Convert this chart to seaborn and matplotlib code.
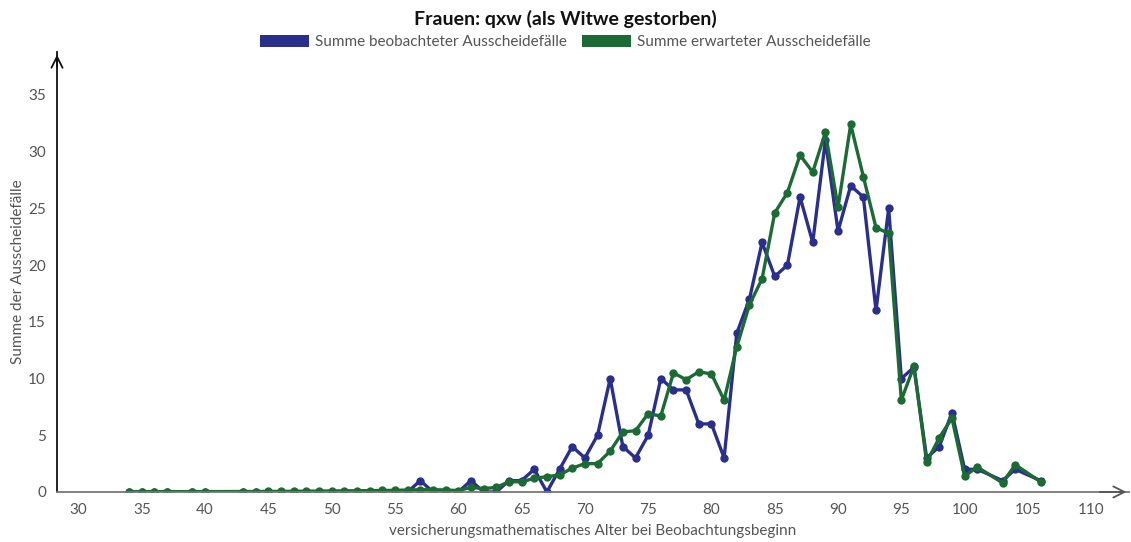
import matplotlib
matplotlib.use("Agg")
import matplotlib.pyplot as plt
import seaborn as sns
import pandas as pd
from matplotlib.patches import Patch

ages = [34, 35, 36, 37, 39, 40, 43, 44, 45, 46, 47, 48, 49, 50, 51, 52, 53, 54,
        55, 56, 57, 58, 59, 60, 61, 62, 63, 64, 65, 66, 67, 68, 69, 70, 71, 72,
        73, 74, 75, 76, 77, 78, 79, 80, 81, 82, 83, 84, 85, 86, 87, 88, 89, 90,
        91, 92, 93, 94, 95, 96, 97, 98, 99, 100, 101, 103, 104, 106]

observed = [0, 0, 0, 0, 0, 0, 0, 0, 0, 0, 0, 0, 0, 0, 0, 0, 0, 0,
            0, 0, 1, 0, 0, 0, 1, 0, 0, 1, 1, 2, 0, 2, 4, 3, 5, 10,
            4, 3, 5, 10, 9, 9, 6, 6, 3, 14, 17, 22, 19, 20, 26, 22, 31, 23,
            27, 26, 16, 25, 10, 11, 3, 4, 7, 2, 2, 1, 2, 1]

expected = [0.02, 0.02, 0.02, 0.03, 0.03, 0.03, 0.04, 0.04, 0.05, 0.05, 0.06, 0.07,
            0.08, 0.09, 0.10, 0.11, 0.12, 0.13, 0.15, 0.17, 0.2, 0.2, 0.18, 0.12,
            0.4, 0.3, 0.4, 0.9, 0.9, 1.2, 1.35, 1.5, 2.1, 2.5, 2.5, 3.6,
            5.3, 5.4, 6.9, 6.7, 10.5, 9.9, 10.6, 10.4, 8.1, 12.8, 16.5, 18.8,
            24.6, 26.4, 29.7, 28.2, 31.7, 25.1, 32.4, 27.8, 23.3, 22.8, 8.1, 11.1,
            2.6, 4.8, 6.5, 1.4, 2.2, 0.8, 2.4, 0.9]

labels = ["Summe beobachteter Ausscheidefälle", "Summe erwarteter Ausscheidefälle"]
colors = ["#2a2f8c", "#1c6b34"]

df = pd.concat([
    pd.DataFrame({"Alter": ages, "Wert": observed, "Serie": labels[0]}),
    pd.DataFrame({"Alter": ages, "Wert": expected, "Serie": labels[1]}),
])

sns.set_style("white")
plt.rcParams["font.family"] = ["Lato", "DejaVu Sans"]

fig = plt.figure(figsize=(11.31, 5.42), dpi=100)
ax = fig.add_axes([0.0504, 0.0923, 0.948, 0.812])

for lab, col in zip(labels, colors):
    sns.lineplot(data=df[df["Serie"] == lab], x="Alter", y="Wert", ax=ax,
                 color=col, linewidth=2.4, marker="o", markersize=6,
                 markeredgewidth=0, legend=False)

ax.set_xlim(28.3, 113)
ax.set_ylim(0, 38.8)
ax.set_xticks(range(30, 111, 5))
ax.set_yticks(range(0, 36, 5))

for s in ["top", "right"]:
    ax.spines[s].set_visible(False)
ax.spines["left"].set_color("#111111")
ax.spines["left"].set_linewidth(1.3)
ax.spines["bottom"].set_color("#777777")
ax.spines["bottom"].set_linewidth(1.3)

ax.tick_params(axis="both", direction="inout", length=8, width=1,
               colors="#333333", labelcolor="#555555", labelsize=11, pad=4)

# arrows at the end of the axes
ax.annotate("", xy=(0, 1.0), xytext=(0, 0.96), xycoords="axes fraction",
            arrowprops=dict(arrowstyle="->", color="#111111", lw=1.3,
                            mutation_scale=20), annotation_clip=False)
ax.annotate("", xy=(1.0, 0), xytext=(0.97, 0), xycoords="axes fraction",
            arrowprops=dict(arrowstyle="->", color="#555555", lw=1.3,
                            mutation_scale=20), annotation_clip=False)

ax.set_xlabel("versicherungsmathematisches Alter bei Beobachtungsbeginn",
              fontsize=11, color="#555555", labelpad=5)
ax.set_ylabel("Summe der Ausscheidefälle", fontsize=11, color="#555555",
              labelpad=2)

fig.text(0.5, 0.965, "Frauen: qxw (als Witwe gestorben)", ha="center",
         va="center", fontsize=14, fontweight="bold", color="#111111")

handles = [Patch(facecolor=c, edgecolor="none") for c in colors]
fig.legend(handles, labels, loc="center", bbox_to_anchor=(0.5, 0.922),
           ncol=2, frameon=False, fontsize=11, handlelength=3.2,
           handleheight=0.8, handletextpad=0.4, columnspacing=1.0,
           labelcolor="#555555")

fig.savefig("out.png", dpi=100)
